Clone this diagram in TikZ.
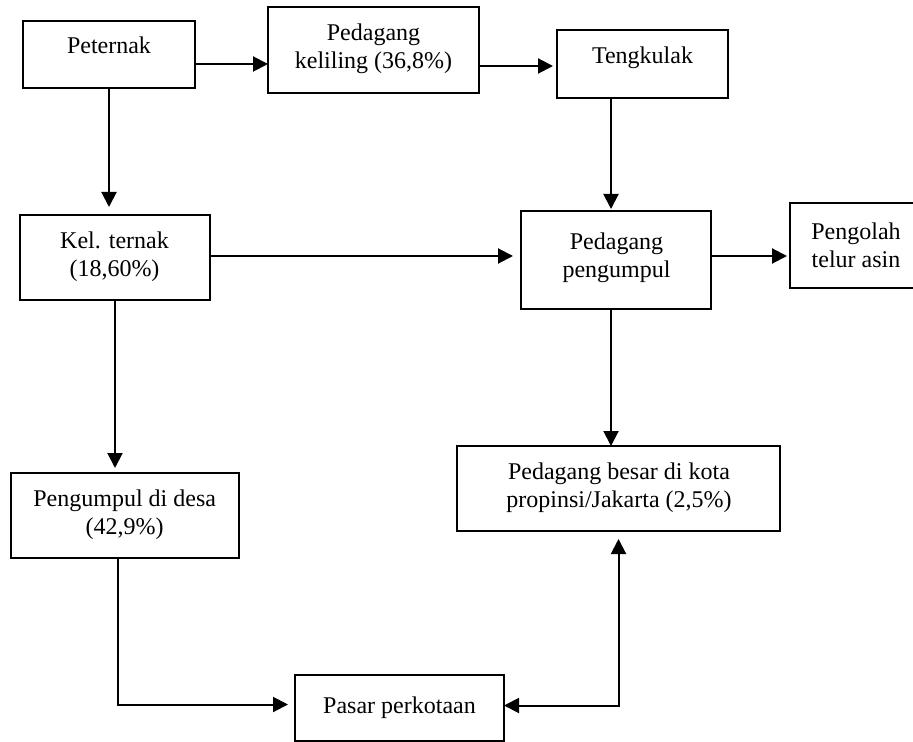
\documentclass[tikz,border=0pt]{standalone}
\usepackage{fontspec}
\setmainfont{Liberation Serif}
\usetikzlibrary{arrows.meta,calc}
\begin{document}
\begin{tikzpicture}[x=0.5pt,y=-0.5pt,
  box/.style 2 args={draw,line width=1pt,inner sep=0pt,outer sep=0pt,
    minimum width=#1*0.5pt,minimum height=#2*0.5pt},
  txt/.style={align=center,inner sep=0pt,outer sep=0pt,font=\fontsize{12}{14}\selectfont},
  arr/.style={line width=1pt,-{Triangle[length=7.5pt,width=7.5pt]}},
  darr/.style={line width=1pt,{Triangle[length=7.5pt,width=7.5pt]}-{Triangle[length=7.5pt,width=7.5pt]}}]
\clip (0,0) rectangle (913,742);
% boxes
\node[box={172}{67}] (pet) at (109,54.5) {};
\node[box={211}{86}] (kel) at (373.5,50) {};
\node[box={171}{68}] (ten) at (642.5,64) {};
\node[box={190}{85}] (kt) at (115,257.5) {};
\node[box={190}{98}] (pp) at (616,260) {};
\node[box={132}{85}] (po) at (856,245.5) {};
\node[box={228}{85}] (pd) at (125,515.5) {};
\node[box={323}{85}] (pb) at (618.5,488.5) {};
\node[box={209}{66}] (pa) at (399.5,708) {};
% texts
\node[txt] (tpet) at (109,44.8) {Peternak};
\node[txt] (tkel) at (373.5,48.4) {Pedagang\\keliling (36,8\%)};
\node[txt] (tten) at (642.5,57.4) {Tengkulak};
\node[txt] (tkt) at (114.5,256.4) {Kel. ternak\\(18,60\%)};
\node[txt] (tpp) at (616.5,257.7) {Pedagang\\pengumpul};
\node[txt] (tpo) at (856,245) {Pengolah\\telur asin};
\node[txt] (tpd) at (124.7,514.4) {Pengumpul di desa\\(42,9\%)};
\node[txt] (tpb) at (619,487.7) {Pedagang besar di kota\\propinsi/Jakarta (2,5\%)};
\node[txt] (tpa) at (399.5,707.4) {Pasar perkotaan};
% connectors
\draw[arr] ($(pet.east)+(0,9.5)$) coordinate (a1) -- (kel.west |- a1);
\draw[arr,shorten >=4pt] (pet.south) -- (pet.south |- kt.north);
\draw[arr,shorten >=2pt] ($(kel.east)+(0,16)$) coordinate (c1) -- (ten.west |- c1);
\draw[arr,shorten >=1pt] ($(ten.south)+(-31.5,0)$) coordinate (d1) -- (d1 |- pp.north);
\draw[arr,shorten >=4pt] ($(kt.east)+(0,-1.5)$) coordinate (e1) -- (pp.west |- e1);
\draw[arr,shorten >=1.5pt] ($(pp.east)+(0,-4)$) coordinate (f1) -- (po.west |- f1);
\draw[arr,shorten >=2.5pt] (kt.south) -- (kt.south |- pd.north);
\draw[arr] ($(pp.south)+(-5,0)$) coordinate (h1) -- (h1 |- pb.north);
\draw[arr,shorten >=3.5pt] ($(pd.south)+(-7,0)$) coordinate (i1) |- ($(pa.west)+(0,-3.5)$);
\draw[darr,shorten >=4pt] ($(pa.east)+(0,-2.5)$) coordinate (j1) -| (pb.south);
\end{tikzpicture}
\end{document}
